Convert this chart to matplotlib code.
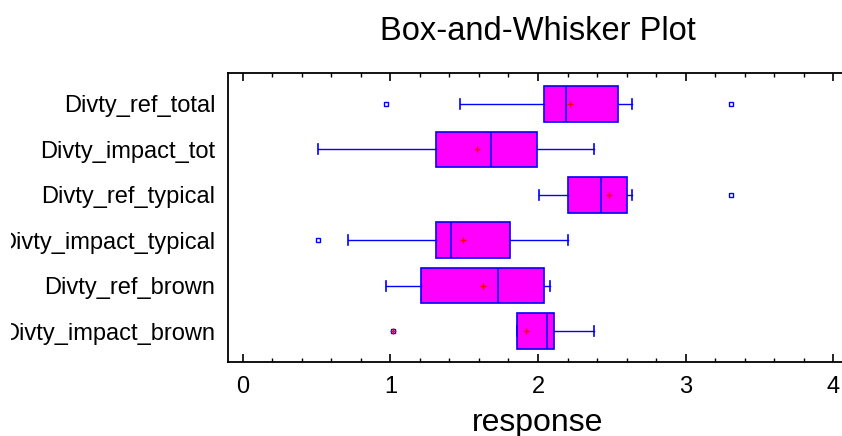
import numpy as np
import matplotlib.pyplot as plt
from matplotlib.ticker import MultipleLocator
from matplotlib.transforms import Bbox, TransformedBbox, IdentityTransform

plt.rcParams['font.family'] = ['Liberation Sans', 'DejaVu Sans']

labels = ["Divty_ref_total", "Divty_impact_tot", "Divty_ref_typical",
          "Divty_impact_typical", "Divty_ref_brown", "Divty_impact_brown"]
whislo = [1.47, 0.51, 2.01, 0.71, 0.97, 1.86]
q1 = [2.04, 1.31, 2.20, 1.31, 1.21, 1.86]
med = [2.19, 1.68, 2.43, 1.41, 1.73, 2.06]
q3 = [2.54, 1.99, 2.60, 1.81, 2.04, 2.11]
whishi = [2.64, 2.38, 2.64, 2.20, 2.08, 2.38]
means = [2.22, 1.59, 2.48, 1.49, 1.63, 1.92]
outliers = [[0.97, 3.31], [], [3.31], [0.51], [], [1.02]]
far_out = [[], [], [], [], [], [1.02]]

stats = []
for i in range(len(labels)):
    stats.append(dict(label=labels[i], whislo=whislo[i], q1=q1[i], med=med[i],
                      q3=q3[i], whishi=whishi[i], mean=means[i], fliers=outliers[i]))

# first category on top
stats = stats[::-1]
pos = np.arange(len(stats))

fig = plt.figure(figsize=(8.42, 4.36), dpi=100)
ax = fig.add_axes([228/842, 1 - 362/436, 620/842, 289/436])

ax.bxp(stats, positions=pos, vert=False, widths=0.78, patch_artist=True,
       showmeans=True, capwidths=0.22,
       boxprops=dict(facecolor='#ff00ff', edgecolor='#0000ff', linewidth=1.2),
       medianprops=dict(color='#0000ff', linewidth=1.2),
       whiskerprops=dict(color='#0000ff', linewidth=1.0),
       capprops=dict(color='#0000ff', linewidth=1.2),
       meanprops=dict(marker='+', markeredgecolor='red', markersize=5, markeredgewidth=1),
       flierprops=dict(marker='s', markerfacecolor='none', markeredgecolor='#0000ff',
                       markersize=3, markeredgewidth=1))

far = far_out[::-1]
for p, vals in zip(pos, far):
    if vals:
        ax.plot(vals, [p] * len(vals), '+', color='red', markersize=5, markeredgewidth=1)

ax.set_xlim(-0.1, 4.1)
ax.set_ylim(-0.68, 5.68)
ax.xaxis.set_major_locator(MultipleLocator(1))
ax.xaxis.set_minor_locator(MultipleLocator(0.2))
ax.tick_params(axis='x', which='both', direction='in', top=True, bottom=True)
ax.tick_params(axis='x', which='major', length=6, width=1.2, labelsize=17, pad=10)
ax.tick_params(axis='x', which='minor', length=3, width=1)
ax.tick_params(axis='y', length=0, labelsize=17, pad=9)
for s in ax.spines.values():
    s.set_linewidth(1.3)

# the label area is clipped on the left, as in the original
clip = TransformedBbox(Bbox([[11, 0], [842, 436]]), IdentityTransform())
for lbl in ax.get_yticklabels():
    lbl.set_clip_box(clip)
    lbl.set_clip_on(True)

ax.set_xlabel("response", fontsize=23, labelpad=7)
ax.set_title("Box-and-Whisker Plot", fontsize=23.5, pad=24)

fig.savefig("out.png", dpi=100)
